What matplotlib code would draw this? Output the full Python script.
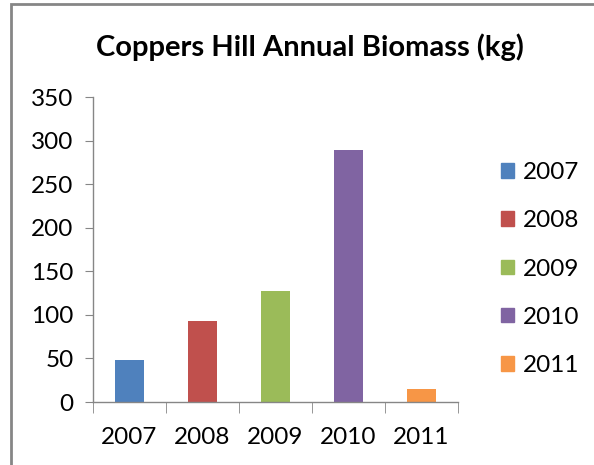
import matplotlib
matplotlib.use("Agg")
import matplotlib.pyplot as plt
from matplotlib.patches import Rectangle
import numpy as np

years = ['2007', '2008', '2009', '2010', '2011']
biomass = [48, 93, 127, 289, 15]
colors = ['#4f81bd', '#c0504d', '#9bbb59', '#8064a2', '#f79646']
yticks = [0, 50, 100, 150, 200, 250, 300, 350]

plt.rcParams['font.family'] = ['Lato', 'DejaVu Sans']

fig = plt.figure(figsize=(5.94, 4.65), dpi=100)
ax = fig.add_axes([93/594, 1 - 402/465, (458 - 93)/594, (402 - 97)/465])

x = np.arange(len(years))
bars = ax.bar(x, biomass, width=0.41, color=colors, label=years)

ax.set_xlim(-0.5, len(years) - 0.5)
ax.set_ylim(0, 350)
ax.set_yticks(yticks)
ax.set_xticks(x)
ax.set_xticklabels(years)
ax.set_xticks(np.arange(-0.5, len(years)), minor=True)

gray = '#868686'
for s in ['top', 'right']:
    ax.spines[s].set_visible(False)
for s in ['left', 'bottom']:
    ax.spines[s].set_color(gray)
    ax.spines[s].set_linewidth(1)

ax.tick_params(axis='y', direction='out', length=6, color=gray, labelsize=17.5, pad=8)
ax.tick_params(axis='x', which='major', length=0, labelsize=17.5, pad=18)
ax.tick_params(axis='x', which='minor', direction='out', length=8, color=gray)

fig.text(310/594, 1 - 47/465, 'Coppers Hill Annual Biomass (kg)', ha='center', va='center',
         fontsize=21, fontweight='bold')

handles = [Rectangle((0, 0), 1, 1, color=c) for c in colors]
fig.legend(handles, years, loc='center left', bbox_to_anchor=(501/594, 1 - 269/465),
           frameon=False, fontsize=17.5, handlelength=0.55, handleheight=0.55,
           handletextpad=0.35, labelspacing=1.12, borderaxespad=0, borderpad=0)

fig.patches.append(Rectangle((11/594, -0.1), 1.2, 1.1 - 4/465, transform=fig.transFigure,
                             fill=False, edgecolor=gray, linewidth=2, clip_on=False))

fig.savefig('out.png', dpi=100)
